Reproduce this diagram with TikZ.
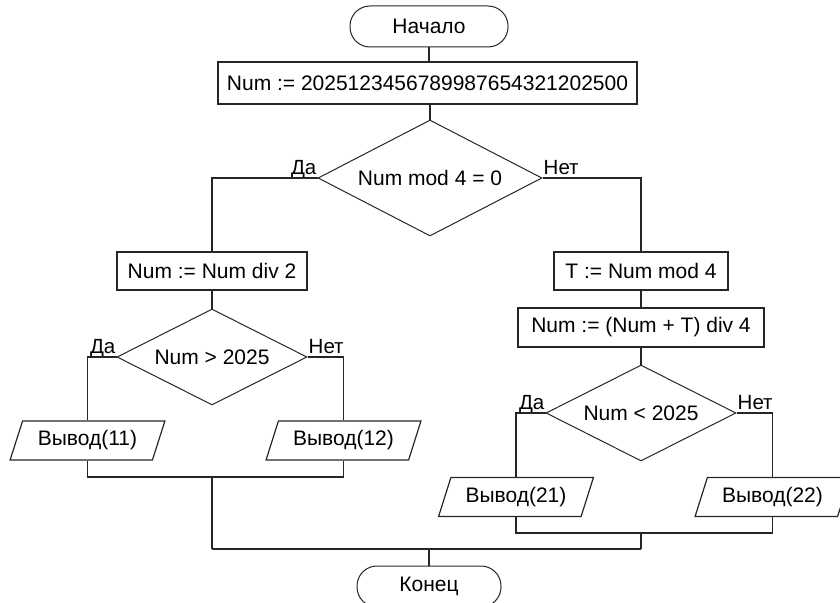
\documentclass[tikz,border=0pt]{standalone}
\usepackage{fontspec}
\setmainfont{Liberation Sans}
\usetikzlibrary{shapes.geometric,calc}
\begin{document}
\begin{tikzpicture}[x=1pt,y=-1pt,
  every node/.style={font=\fontsize{21}{25}\selectfont, text=black},
  conn/.style={line width=1.6pt, draw=black!85},
  proc/.style={draw=black!85, line width=1.5pt, rectangle, minimum height=40pt, inner xsep=4pt, inner ysep=0pt},
  decis/.style={draw=black!85, line width=1pt, diamond, aspect=2, inner sep=0pt},
  io/.style={draw=black!85, line width=1.2pt, trapezium, trapezium left angle=64, trapezium right angle=116, trapezium stretches=true, minimum width=155pt, minimum height=39pt, inner sep=0pt},
  term/.style={draw=black!85, line width=1pt, rectangle, rounded corners=20pt, minimum height=41pt, inner sep=0pt},
  lbl/.style={inner sep=0pt, font=\fontsize{20.5}{24}\selectfont}
]
\useasboundingbox (0,0) rectangle (840,602);

% nodes
\node[term, minimum width=158pt] (start) at (429,26.5) {Начало};
\node[proc, minimum width=419pt, minimum height=42pt] (a1) at (427.5,83) {Num := 2025123456789987654321202500};
\node[decis, minimum width=224pt, minimum height=116pt] (d1) at (430,178) {Num mod 4 = 0};

\node[proc, minimum width=190pt, minimum height=38pt] (a2) at (212,271) {Num := Num div 2};
\node[decis, minimum width=190pt, minimum height=96pt] (d2) at (212,357) {Num > 2025};
\node[io] (o11) at (87.5,440.5) {Вывод(11)};
\node[io] (o12) at (343.5,440.5) {Вывод(12)};

\node[proc, minimum width=174pt, minimum height=38pt] (a3) at (641,271) {T := Num mod 4};
\node[proc, minimum width=246pt, minimum height=39pt] (a4) at (641,327.5) {Num := (Num + T) div 4};
\node[decis, minimum width=190pt, minimum height=96pt] (d3) at (641,413) {Num < 2025};
\node[io] (o21) at (516,497) {Вывод(21)};
\node[io] (o22) at (772.5,497) {Вывод(22)};

\node[term, minimum width=144pt] (end) at (429,586.5) {Конец};

% labels
\node[lbl, anchor=base east] (y1) at ($(d1.west)+(-1,-4)$) {Да};
\node[lbl, anchor=base west] (n1) at ($(d1.east)+(1,-4)$) {Нет};
\node[lbl, anchor=base east] (y2) at ($(d2.west)+(-1,-4)$) {Да};
\node[lbl, anchor=base west] (n2) at ($(d2.east)+(1,-4)$) {Нет};
\node[lbl, anchor=base east] (y3) at ($(d3.west)+(-1,-4)$) {Да};
\node[lbl, anchor=base west] (n3) at ($(d3.east)+(1,-4)$) {Нет};

% join coordinates
\coordinate (m1) at (212,477);
\coordinate (m2) at (641,533);
\coordinate (j1) at (212,549);
\coordinate (j2) at (641,549);
\coordinate (jc) at (429,549);

% connectors
\draw[conn] (start) -- (start |- a1.north);
\draw[conn] (d1.north |- a1.south) -- (d1.north);
\draw[conn] (d1.west) -| (a2.north);
\draw[conn] (d1.east) -| (a3.north);
\draw[conn] (a2) -- (d2);
\draw[conn] (d2.west) -| (o11.north);
\draw[conn] (d2.east) -| (o12.north);
\draw[conn] (o11.south) |- (m1) -| (o12.south);
\draw[conn] (m1) -- (j1);

\draw[conn] (a3) -- (a4);
\draw[conn] (a4) -- (d3);
\draw[conn] (d3.west) -| (o21.north);
\draw[conn] (d3.east) -| (o22.north);
\draw[conn] (o21.south) |- (m2) -| (o22.south);
\draw[conn] (m2) -- (j2);

\draw[conn] (j1) -- (j2);
\draw[conn] (jc) -- (end.north);
\end{tikzpicture}
\end{document}
